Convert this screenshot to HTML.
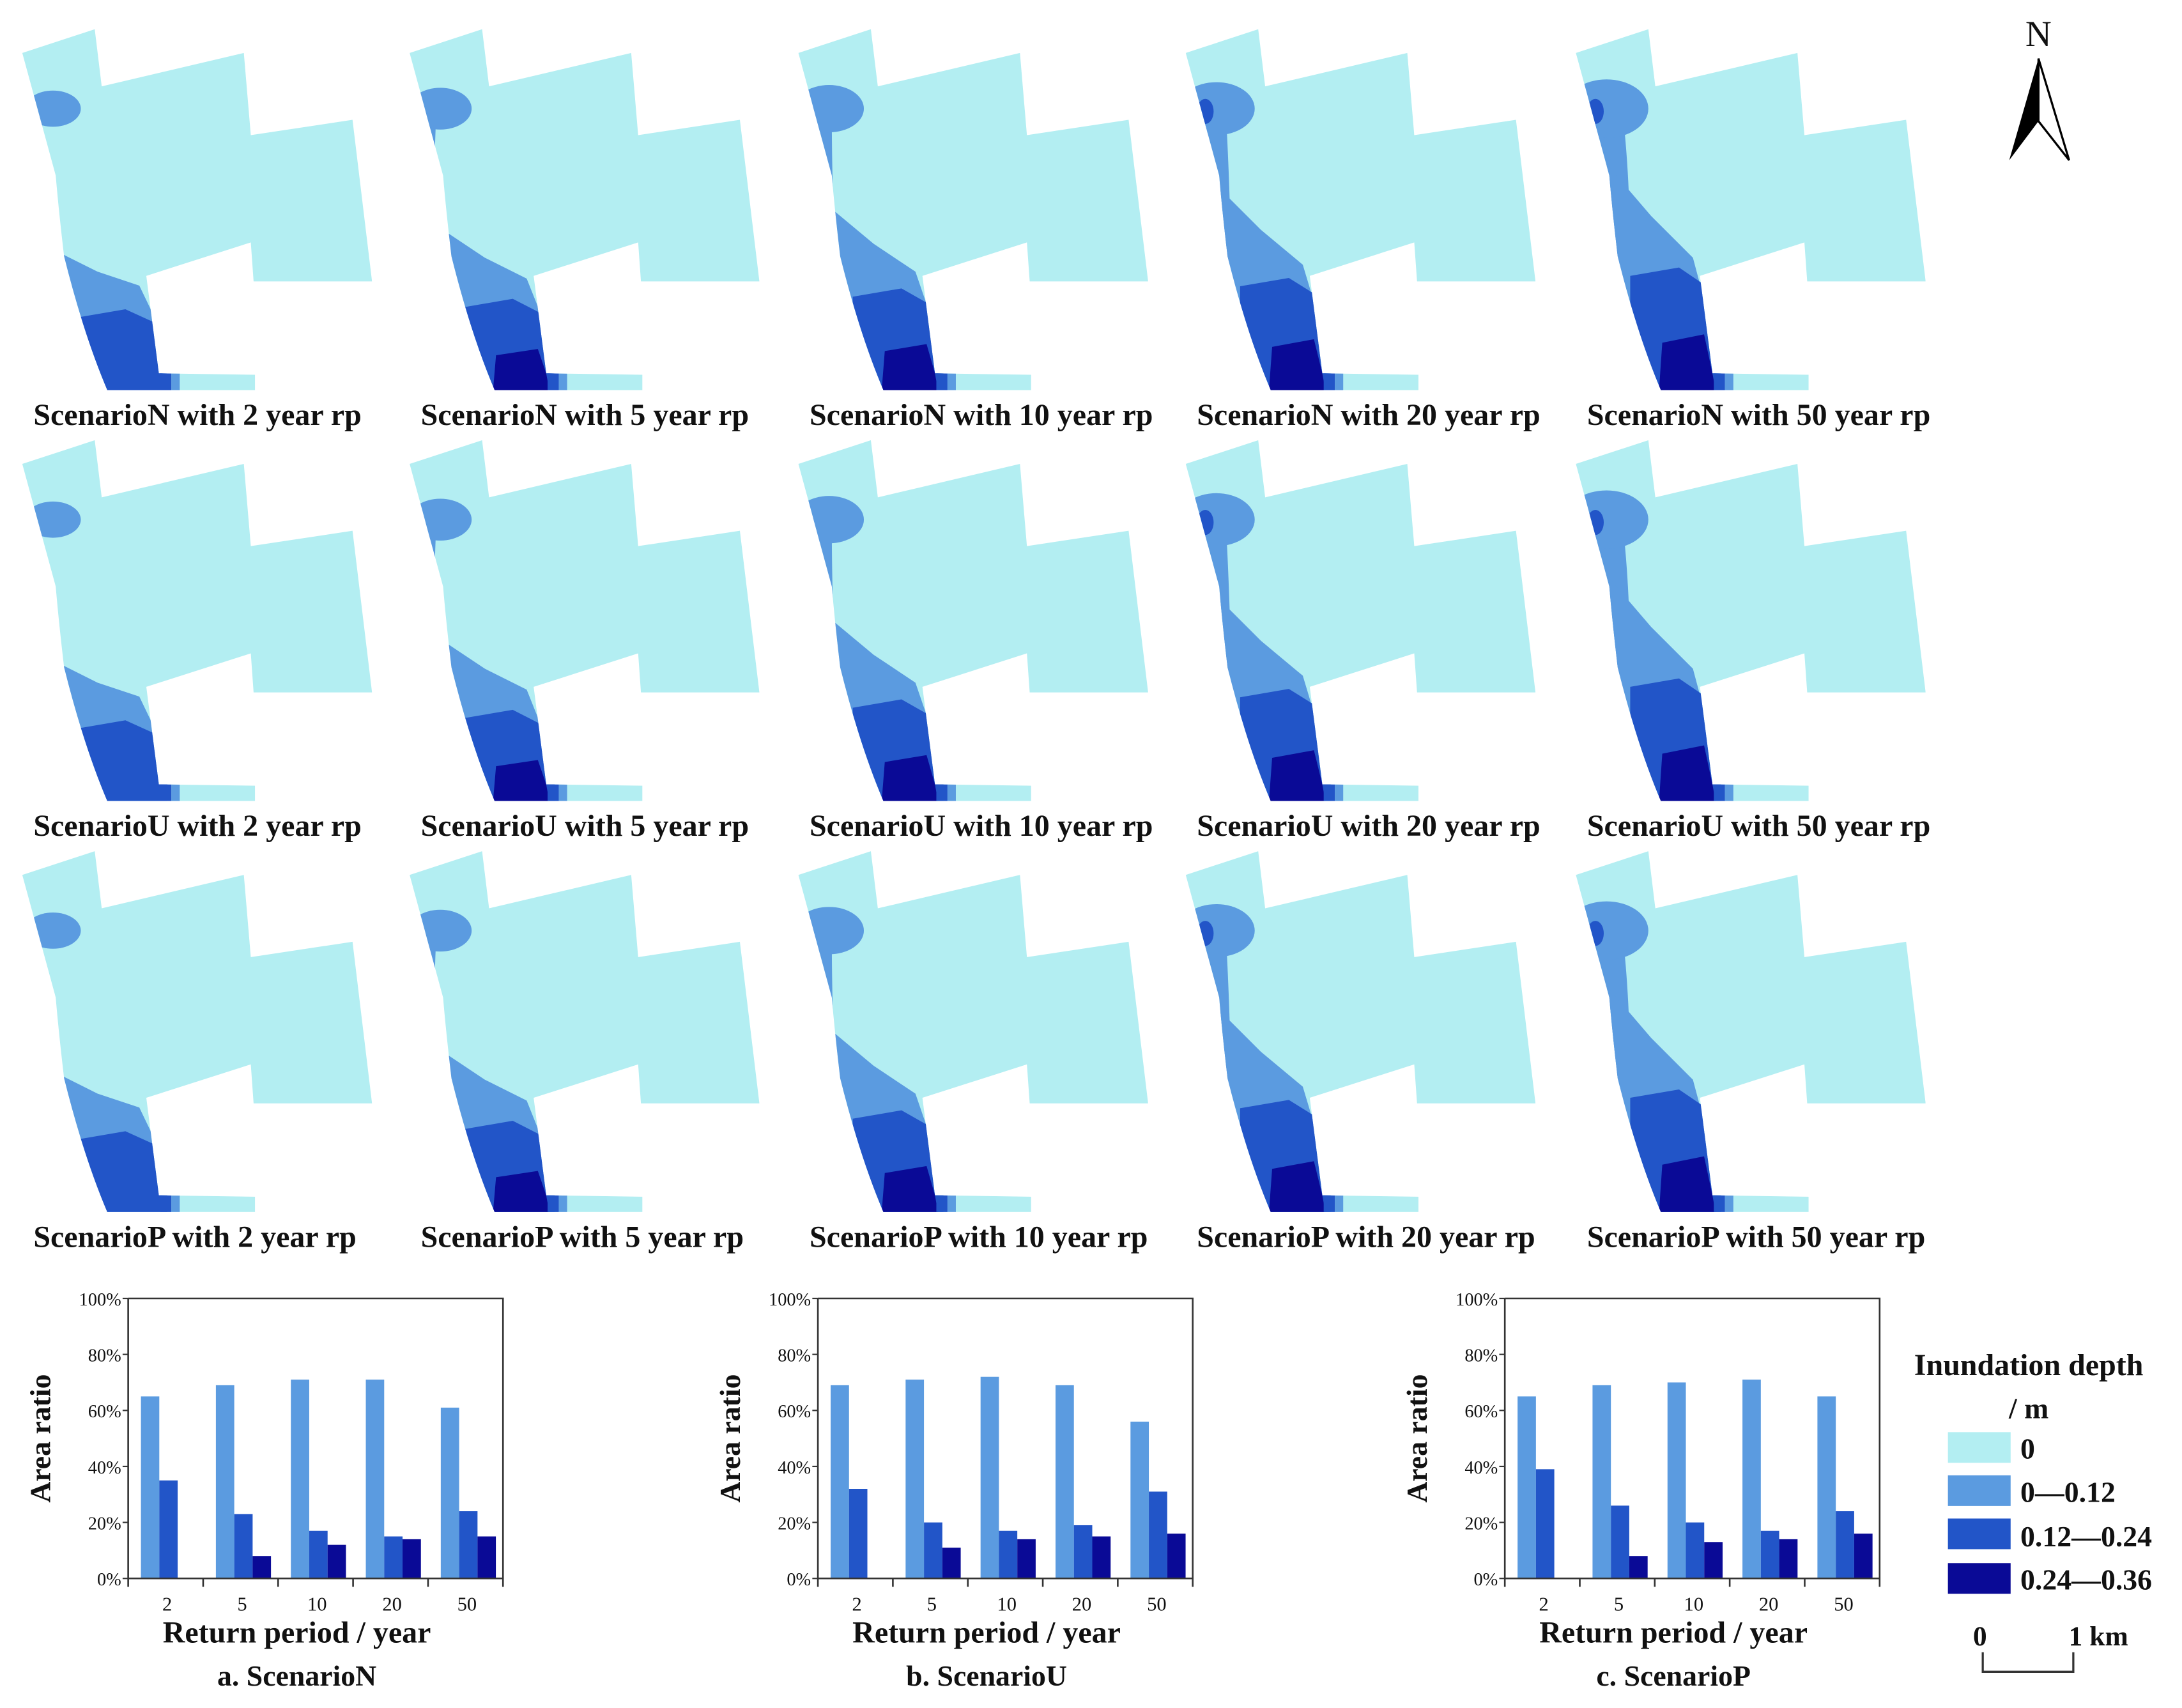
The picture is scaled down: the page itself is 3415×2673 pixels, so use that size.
<!DOCTYPE html>
<html><head><meta charset="utf-8"><style>
html,body{margin:0;padding:0;background:#fff}
svg{display:block}
text{font-family:"Liberation Serif",serif;fill:#111}
</style></head><body>
<svg id="fig" width="3415" height="2673" viewBox="0 0 1566 1226" preserveAspectRatio="none" xmlns="http://www.w3.org/2000/svg">
<defs>
<clipPath id="mapclip"><path d="M16,38 L68,21 L73,62 L175,38 L180,97 L253,86 L267,202 L182,202 L180,174 L105,198 L114,268 L183,269 L183,280 L77,280 Q60,240 46,184 Q42,150 40,126 Z"/></clipPath>
</defs>
<g id="maps"></g>
<g id="charts"></g>
<g id="legend">
<text x="1456" y="987" text-anchor="middle" font-size="22" font-weight="bold">Inundation depth</text>
<text x="1456" y="1018" text-anchor="middle" font-size="21" font-weight="bold">/ m</text>
<rect x="1398" y="1028" width="45" height="22" fill="#b3eef2"/>
<text x="1450" y="1047" font-size="21" font-weight="bold">0</text>
<rect x="1398" y="1059" width="45" height="22" fill="#5b9be0"/>
<text x="1450" y="1078" font-size="21" font-weight="bold">0—0.12</text>
<rect x="1398" y="1090" width="45" height="22" fill="#2255c8"/>
<text x="1450" y="1110" font-size="21" font-weight="bold">0.12—0.24</text>
<rect x="1398" y="1122" width="45" height="22" fill="#0a0a96"/>
<text x="1450" y="1141" font-size="21" font-weight="bold">0.24—0.36</text>
<text x="1421" y="1181" text-anchor="middle" font-size="20" font-weight="bold">0</text>
<text x="1506" y="1181" text-anchor="middle" font-size="20" font-weight="bold">1 km</text>
<path d="M1423,1186 V1200 H1488 V1186" fill="none" stroke="#333" stroke-width="1.5"/>
</g>
<g>
<text x="1463" y="33" text-anchor="middle" font-size="26" font-family="Liberation Sans, sans-serif">N</text>
<path d="M1463,42 L1442,115 L1463,87 Z" fill="#000"/>
<path d="M1463,42 L1485,115 L1463,87 Z" fill="#fff" stroke="#000" stroke-width="1.5"/>
</g>
</svg>
<script>
const NS="http://www.w3.org/2000/svg";
const categories=["2","5","10","20","50"];
const seriesN0012=[65,69,71,71,61];
const seriesN1224=[35,23,17,15,24];
const seriesN2436=[0,8,12,14,15];
const seriesU0012=[69,71,72,69,56];
const seriesU1224=[32,20,17,19,31];
const seriesU2436=[0,11,14,15,16];
const seriesP0012=[65,69,70,71,65];
const seriesP1224=[39,26,20,17,24];
const seriesP2436=[0,8,13,14,16];
const yTicks=[0,20,40,60,80,100];
const scenarios=["N","U","P"];
const colors=["#b3eef2","#5b9be0","#2255c8","#0a0a96"];

function mk(tag,attrs,parent){const e=document.createElementNS(NS,tag);for(const k in attrs)e.setAttribute(k,attrs[k]);parent.appendChild(e);return e;}

const maps=document.getElementById('maps');
const colX=[0,278,557,835,1115], rowY=[0,295,590];
scenarios.forEach((sc,ri)=>{
  categories.forEach((rp,ci)=>{
    const s=ci/4;
    const g=mk('g',{transform:`translate(${colX[ci]},${rowY[ri]})`},maps);
    
    
    const inner=mk('g',{'clip-path':'url(#mapclip)'},g);
    mk('rect',{x:0,y:0,width:290,height:290,fill:colors[0]},inner);
    if(ci>0) mk('path',{d:`M0,60 L${30+20*s},85 Q${25+30*s},130 ${30+25*s},190 L0,190 Z`,fill:colors[1]},inner);
    mk('ellipse',{cx:38,cy:78,rx:20+10*s,ry:13+8*s,fill:colors[1]},inner);
    if(ci>=3) mk('ellipse',{cx:30,cy:80,rx:6,ry:9,fill:colors[2]},inner);
    mk('circle',{cx:107,cy:41,r:4+3*s,fill:colors[1]},inner);
    mk('path',{d:`M0,${175-70*s} L40,${180-60*s} L70,${195-40*s} L100,${205-20*s} L112,230 L125,290 L0,290 Z`,fill:colors[1]},inner);
    mk('path',{d:`M55,${228-30*s} L90,${222-30*s} L112,${232-25*s} L120,268 L120,290 L55,290 Z`,fill:colors[2]},inner);
    if(ci>=1) mk('path',{d:`M78,${258-12*s} L108,${254-14*s} L114,268 L118,290 L75,290 Z`,fill:colors[3]},inner);
    mk('rect',{x:115,y:266,width:8,height:16,fill:colors[2]},inner);
    mk('rect',{x:123,y:266,width:6,height:16,fill:colors[1]},inner);
    const t=mk('text',{x:24,y:305,'font-size':22,'font-weight':'bold'},g);
    
    
    t.textContent=`Scenario${sc} with ${rp} year rp`;
  });
});

const charts=document.getElementById('charts');
const chartX=[92,587,1080], plotW=269, plotTop=932, plotBot=1133;
const dataMap={N:[seriesN0012,seriesN1224,seriesN2436],U:[seriesU0012,seriesU1224,seriesU2436],P:[seriesP0012,seriesP1224,seriesP2436]};
const titles=["a. ScenarioN","b. ScenarioU","c. ScenarioP"];
scenarios.forEach((sc,i)=>{
  const x0=chartX[i];
  const g=mk('g',{},charts);
  
  
  const yS=v=>plotBot-(v/100)*(plotBot-plotTop);
  const gw=plotW/categories.length;
  dataMap[sc].forEach((arr,si)=>{
    arr.forEach((v,ci)=>{
      const bx=x0+ci*gw+gw*0.17+si*gw*0.245;
      const r=mk('rect',{x:bx,y:yS(v),width:gw*0.245,height:plotBot-yS(v),fill:colors[si+1]},g);
      
      
    });
  });
  mk('path',{d:`M${x0},${plotTop} H${x0+plotW} V${plotBot+6} M${x0},${plotTop} V${plotBot+6} M${x0},${plotBot} H${x0+plotW}`,fill:'none',stroke:'#333','stroke-width':1.2},g);
  for(let k=1;k<categories.length;k++) mk('line',{x1:x0+k*gw,x2:x0+k*gw,y1:plotBot,y2:plotBot+6,stroke:'#333','stroke-width':1.2},g);
  yTicks.forEach(v=>{
    mk('line',{x1:x0-4,x2:x0,y1:yS(v),y2:yS(v),stroke:'#333','stroke-width':1},g);
    const t=mk('text',{x:x0-5,y:yS(v)+5,'font-size':13,'text-anchor':'end'},g);
    
    
    t.textContent=v+'%';
  });
  categories.forEach((c,ci)=>{
    const t=mk('text',{x:x0+ci*gw+gw*0.52,y:plotBot+23,'font-size':14,'text-anchor':'middle'},g);
    
    
    t.textContent=c;
  });
  const yt=mk('text',{x:0,y:0,'font-size':21,'font-weight':'bold','text-anchor':'middle',transform:`translate(${x0-56},${(plotTop+plotBot)/2}) rotate(-90)`},g);
  
  
  yt.textContent='Area ratio';
  const xt=mk('text',{x:x0+plotW*0.45,y:1179,'font-size':22,'font-weight':'bold','text-anchor':'middle'},g);
  
  
  xt.textContent='Return period / year';
  const ct=mk('text',{x:x0+plotW*0.45,y:1210,'font-size':21,'font-weight':'bold','text-anchor':'middle'},g);
  
  
  ct.textContent=titles[i];
});
</script>
</body></html>
